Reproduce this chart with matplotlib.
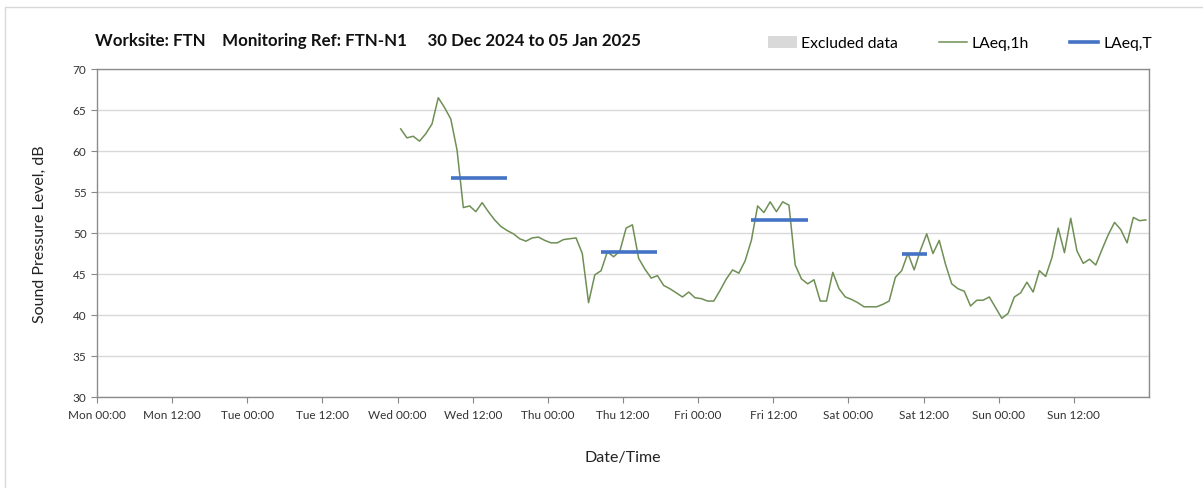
import matplotlib.pyplot as plt
import numpy as np
from matplotlib.lines import Line2D
from matplotlib.patches import Patch

plt.rcParams["font.family"] = ["Lato", "DejaVu Sans"]

# hourly LAeq,1h values, one per hour starting Wed 00:00
laeq_1h = [
    62.7, 61.6, 61.8, 61.2, 62.1, 63.3, 66.5, 65.3, 63.9, 60.1, 53.1, 53.3,
    52.6, 53.7, 52.6, 51.6, 50.8, 50.3, 49.9, 49.3, 49.0, 49.4, 49.5, 49.1,
    48.8, 48.8, 49.2, 49.3, 49.4, 47.5, 41.5, 44.9, 45.4, 47.7, 47.1, 47.8,
    50.6, 51.0, 46.9, 45.6, 44.5, 44.8, 43.6, 43.2, 42.7, 42.2, 42.8, 42.1,
    42.0, 41.7, 41.7, 43.0, 44.4, 45.5, 45.1, 46.6, 49.1, 53.3, 52.5, 53.8,
    52.6, 53.8, 53.4, 46.1, 44.4, 43.8, 44.3, 41.7, 41.7, 45.2, 43.2, 42.2,
    41.9, 41.5, 41.0, 41.0, 41.0, 41.3, 41.7, 44.6, 45.4, 47.5, 45.5, 47.9,
    49.9, 47.5, 49.1, 46.2, 43.8, 43.2, 42.9, 41.1, 41.8, 41.8, 42.2, 40.9,
    39.6, 40.2, 42.2, 42.7, 44.0, 42.8, 45.4, 44.7, 47.0, 50.6, 47.6, 51.8,
    47.8, 46.3, 46.8, 46.1, 48.0, 49.8, 51.3, 50.4, 48.8, 51.9, 51.5, 51.6,
]
start_hour = 48  # Wed 00:00, hours from Mon 00:00

# LAeq,T periods: start hour, end hour (from Mon 00:00), level
period_start = [56.5, 80.5, 104.5, 128.5]
period_end = [65.5, 89.5, 113.5, 132.5]
period_level = [56.7, 47.7, 51.6, 47.5]

tick_labels = [
    "Mon 00:00", "Mon 12:00", "Tue 00:00", "Tue 12:00", "Wed 00:00",
    "Wed 12:00", "Thu 00:00", "Thu 12:00", "Fri 00:00", "Fri 12:00",
    "Sat 00:00", "Sat 12:00", "Sun 00:00", "Sun 12:00",
]

green = "#6f8f55"
blue = "#4472c4"
grey = "#d9d9d9"

fig = plt.figure(figsize=(12.03, 4.89), dpi=100)
ax = fig.add_axes([97 / 1203, 1 - 398 / 489, 1052 / 1203, 328 / 489])

hours = start_hour + 0.5 + np.arange(len(laeq_1h))
ax.plot(hours, laeq_1h, color=green, lw=1.1, zorder=3)
ax.hlines(period_level, period_start, period_end, color=blue, lw=2.6, zorder=4)

ax.set_xlim(0, 168)
ax.set_ylim(30, 70)
ax.set_xticks(np.arange(0, 168, 12))
ax.set_xticklabels(tick_labels, fontsize=8.5, color="#333333")
ax.set_xticks(np.arange(0, 169, 24), minor=True)
ax.set_yticks(np.arange(30, 71, 5))
ax.tick_params(axis="y", labelsize=8.5, colors="#333333", length=4, color="#888888")
ax.tick_params(axis="x", which="major", length=4, color="#888888", pad=5)
ax.tick_params(axis="x", which="minor", length=0)
ax.grid(True, axis="y", color=grey, lw=1)
ax.grid(True, axis="x", which="minor", color=grey, lw=1)
ax.set_axisbelow(True)
for s in ax.spines.values():
    s.set_color("#8c8c8c")
    s.set_linewidth(1)

ax.set_xlabel("Date/Time", fontsize=11.5, color="#222222", labelpad=21)
ax.set_ylabel("Sound Pressure Level, dB", fontsize=11.5, color="#222222", labelpad=19)

fig.text(95 / 1203, 1 - 41 / 489,
         "Worksite: FTN    Monitoring Ref: FTN-N1     30 Dec 2024 to 05 Jan 2025",
         fontsize=12.2, fontweight="bold", va="center", ha="left", color="#111111")

handles = [
    Patch(facecolor=grey, edgecolor="none"),
    Line2D([], [], color=green, lw=1.1),
    Line2D([], [], color=blue, lw=2.6),
]
fig.legend(handles, ["Excluded data", "LAeq,1h", "LAeq,T"],
           loc="center right", bbox_to_anchor=(1166 / 1203, 1 - 44 / 489),
           ncol=3, frameon=False, fontsize=11.3, handlelength=1.8,
           handletextpad=0.3, columnspacing=2.6, handleheight=0.8)

# outer frame (top and left edges)
fig.add_artist(Line2D([5 / 1203, 5 / 1203, 1], [0, 1 - 8 / 489, 1 - 8 / 489],
                      transform=fig.transFigure, color=grey, lw=1))

fig.savefig("out.png", dpi=100)
